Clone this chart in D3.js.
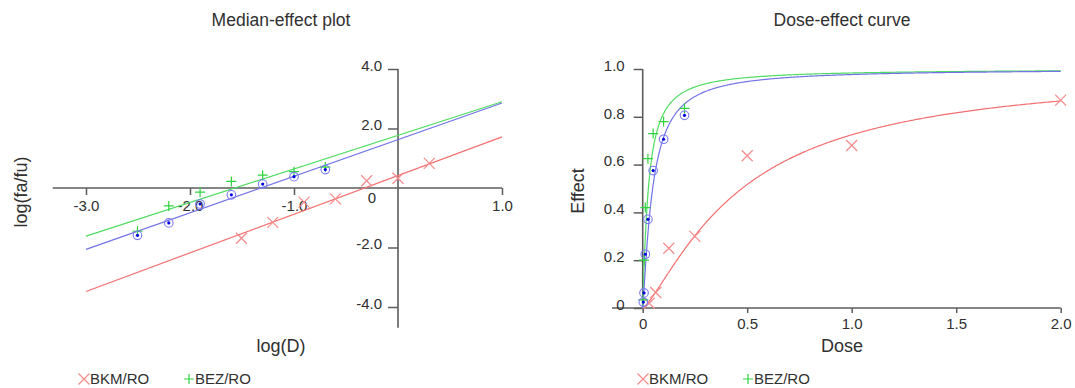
<!DOCTYPE html>
<html>
<head>
<meta charset="utf-8">
<script src="https://cdn.jsdelivr.net/npm/d3@7"></script>
<style>
    body { margin: 0; background: #fff; }
</style>
</head>
<body>
<script>

/**
 * Median-effect plot and dose-effect curve, side by side.
 * Doses are the same for BEZ/RO and the combination, BKM/RO uses its own.
 */

var seriesNames = ['BKM/RO', 'BEZ/RO', 'BKM+BEZ/RO'];

var bkmDoses = [0.03125, 0.0625, 0.125, 0.25, 0.5, 1, 2];
var bezDoses = [0.003125, 0.00625, 0.0125, 0.025, 0.05, 0.1, 0.2];
var comboDoses = [0.003125, 0.00625, 0.0125, 0.025, 0.05, 0.1, 0.2];

// fraction affected (fa)
var bkmEffect = [0.02, 0.065, 0.25, 0.30, 0.637, 0.68, 0.87];
var bezEffect = [0.034, 0.20, 0.42, 0.625, 0.73, 0.78, 0.835];
var comboEffect = [0.025, 0.063, 0.225, 0.371, 0.575, 0.706, 0.806];

// median-effect fit: slope m and median dose Dm
var slopes = [1.30, 1.13, 1.23];
var medianDoses = [0.475, 0.0271, 0.0476];

var logDTicks = [-3, -2, -1, 1];
var logFaTicks = [-4, -2, 2, 4];
var doseTicks = [0, 0.5, 1, 1.5, 2];
var effectTicks = [0, 0.2, 0.4, 0.6, 0.8, 1];

var font = "'Liberation Sans', Arial, sans-serif";
var axisColor = '#5c5c5c';
var textColor = '#303030';
var lineColors = ['#f36f6f', '#4fdc62', '#7373e6'];
var markerColors = ['#f58a8a', '#2fd43f', '#7a7af2'];
var markerTypes = ['cross', 'plus', 'circle'];

var series = [
    {doses: bkmDoses, effect: bkmEffect},
    {doses: bezDoses, effect: bezEffect},
    {doses: comboDoses, effect: comboEffect}
];

var svg = d3.select('body')
    .append('svg')
    .attr('width', 1075)
    .attr('height', 388)
    .attr('font-family', font);

/**
 * Draws one marker of the given type centred on x, y.
 */
var drawMarker = function(g, type, x, y, color) {

    if (type === 'cross') {
        g.append('path')
            .attr('d', 'M' + (x - 5.5) + ',' + (y - 5.5) + 'L' + (x + 5.5) + ',' + (y + 5.5) +
                       'M' + (x - 5.5) + ',' + (y + 5.5) + 'L' + (x + 5.5) + ',' + (y - 5.5))
            .attr('stroke', color)
            .attr('stroke-width', 1.2)
            .attr('fill', 'none');
    } else if (type === 'plus') {
        g.append('path')
            .attr('d', 'M' + (x - 5) + ',' + y + 'L' + (x + 5) + ',' + y +
                       'M' + x + ',' + (y - 5) + 'L' + x + ',' + (y + 5))
            .attr('stroke', color)
            .attr('stroke-width', 1.2)
            .attr('fill', 'none');
    } else {
        g.append('circle')
            .attr('cx', x).attr('cy', y).attr('r', 4.3)
            .attr('stroke', color)
            .attr('stroke-width', 1.1)
            .attr('fill', 'none');
        g.append('circle')
            .attr('cx', x).attr('cy', y).attr('r', 1.6)
            .attr('fill', '#0000e0');
    }
};

var styleAxis = function(g) {
    g.attr('font-family', font);
    g.select('.domain').remove();
    g.selectAll('line')
        .attr('stroke', axisColor)
        .attr('stroke-width', 1.5);
    g.selectAll('text')
        .attr('font-size', 15)
        .attr('fill', textColor);
};

var fmt = function(d) { return d === 0 ? '0' : d.toFixed(1); };

// ---------------------------------------------------------------------------
// Median-effect plot
// ---------------------------------------------------------------------------

var lx = d3.scaleLinear().domain([-3, 1]).range([86, 502]);
var ly = d3.scaleLinear().domain([-4, 4]).range([307, 69]);

var left = svg.append('g');

left.append('line')
    .attr('x1', lx(-3.32)).attr('x2', lx(1))
    .attr('y1', ly(0)).attr('y2', ly(0))
    .attr('stroke', axisColor)
    .attr('stroke-width', 1.6);

left.append('line')
    .attr('x1', lx(0)).attr('x2', lx(0))
    .attr('y1', ly(4)).attr('y2', ly(-4.7))
    .attr('stroke', axisColor)
    .attr('stroke-width', 1.6);

left.append('g')
    .attr('transform', 'translate(0,' + ly(0) + ')')
    .call(d3.axisBottom(lx).tickValues(logDTicks).tickFormat(fmt)
        .tickSize(7).tickPadding(5))
    .call(styleAxis);

left.append('g')
    .attr('transform', 'translate(' + lx(0) + ',0)')
    .call(d3.axisLeft(ly).tickValues(logFaTicks).tickFormat(fmt)
        .tickSize(10).tickPadding(6))
    .call(styleAxis)
    .selectAll('text')
    .attr('dy', '0.08em');

left.append('text')
    .attr('x', lx(0) - 26)
    .attr('y', ly(0) + 15)
    .attr('text-anchor', 'middle')
    .attr('font-size', 15)
    .attr('fill', textColor)
    .text('0');

var medianLine = d3.line()
    .x(function(d) { return lx(d[0]); })
    .y(function(d) { return ly(d[1]); });

series.forEach(function(s, i) {
    var logDm = Math.log10(medianDoses[i]);
    var fit = [-3, 1].map(function(x) { return [x, slopes[i] * (x - logDm)]; });

    left.append('path')
        .attr('d', medianLine(fit))
        .attr('fill', 'none')
        .attr('stroke', lineColors[i])
        .attr('stroke-width', 1.2);
});

series.forEach(function(s, i) {
    s.doses.forEach(function(d, j) {
        var fa = s.effect[j];
        drawMarker(left, markerTypes[i], lx(Math.log10(d)),
                   ly(Math.log10(fa / (1 - fa))), markerColors[i]);
    });
});

left.append('text')
    .attr('x', 281).attr('y', 26)
    .attr('text-anchor', 'middle')
    .attr('font-size', 17.5)
    .attr('fill', textColor)
    .text('Median-effect plot');

left.append('text')
    .attr('x', 281).attr('y', 352)
    .attr('text-anchor', 'middle')
    .attr('font-size', 18)
    .attr('fill', textColor)
    .text('log(D)');

left.append('text')
    .attr('transform', 'translate(27,192) rotate(-90)')
    .attr('text-anchor', 'middle')
    .attr('font-size', 18)
    .attr('fill', textColor)
    .text('log(fa/fu)');

// ---------------------------------------------------------------------------
// Dose-effect curve
// ---------------------------------------------------------------------------

var rx = d3.scaleLinear().domain([0, 2]).range([642.7, 1060.7]);
var ry = d3.scaleLinear().domain([0, 1]).range([308, 69]);

var right = svg.append('g');

right.append('line')
    .attr('x1', rx(-0.147)).attr('x2', rx(2))
    .attr('y1', ry(0)).attr('y2', ry(0))
    .attr('stroke', axisColor)
    .attr('stroke-width', 1.6);

right.append('line')
    .attr('x1', rx(0)).attr('x2', rx(0))
    .attr('y1', ry(1)).attr('y2', ry(0))
    .attr('stroke', axisColor)
    .attr('stroke-width', 1.6);

right.append('g')
    .attr('transform', 'translate(0,' + ry(0) + ')')
    .call(d3.axisBottom(rx).tickValues(doseTicks).tickFormat(fmt)
        .tickSize(5).tickPadding(5))
    .call(styleAxis);

right.append('g')
    .attr('transform', 'translate(' + rx(0) + ',0)')
    .call(d3.axisLeft(ry).tickValues(effectTicks).tickFormat(fmt)
        .tickSize(9).tickPadding(9))
    .call(styleAxis)
    .selectAll('text')
    .attr('dy', '0.08em');

// sample doses packed towards zero where the curves are steep
var samples = d3.range(0, 601).map(function(i) { return 2 * Math.pow(i / 600, 3); });

var doseLine = d3.line()
    .x(function(d) { return rx(d[0]); })
    .y(function(d) { return ry(d[1]); });

series.forEach(function(s, i) {
    var pts = samples.map(function(d) {
        var fa = d === 0 ? 0 : 1 / (1 + Math.pow(medianDoses[i] / d, slopes[i]));
        return [d, fa];
    });

    right.append('path')
        .attr('d', doseLine(pts))
        .attr('fill', 'none')
        .attr('stroke', lineColors[i])
        .attr('stroke-width', 1.2);
});

series.forEach(function(s, i) {
    s.doses.forEach(function(d, j) {
        drawMarker(right, markerTypes[i], rx(d), ry(s.effect[j]), markerColors[i]);
    });
});

right.append('text')
    .attr('x', 842).attr('y', 26)
    .attr('text-anchor', 'middle')
    .attr('font-size', 17.5)
    .attr('fill', textColor)
    .text('Dose-effect curve');

right.append('text')
    .attr('x', 842).attr('y', 352)
    .attr('text-anchor', 'middle')
    .attr('font-size', 18)
    .attr('fill', textColor)
    .text('Dose');

right.append('text')
    .attr('transform', 'translate(584,191) rotate(-90)')
    .attr('text-anchor', 'middle')
    .attr('font-size', 18)
    .attr('fill', textColor)
    .text('Effect');

// ---------------------------------------------------------------------------
// Legends (only the two single drugs are listed)
// ---------------------------------------------------------------------------

var legendRows = [
    {x: 84, y: 384},
    {x: 643, y: 384}
];
var legendGap = 105;

legendRows.forEach(function(row) {
    [0, 1].forEach(function(i) {
        var g = svg.append('g');
        var mx = row.x + i * legendGap;
        drawMarker(g, markerTypes[i], mx, row.y - 5, markerColors[i]);
        g.append('text')
            .attr('x', mx + 6)
            .attr('y', row.y)
            .attr('font-size', 15)
            .attr('fill', textColor)
            .text(seriesNames[i]);
    });
});

</script>
</body>
</html>
